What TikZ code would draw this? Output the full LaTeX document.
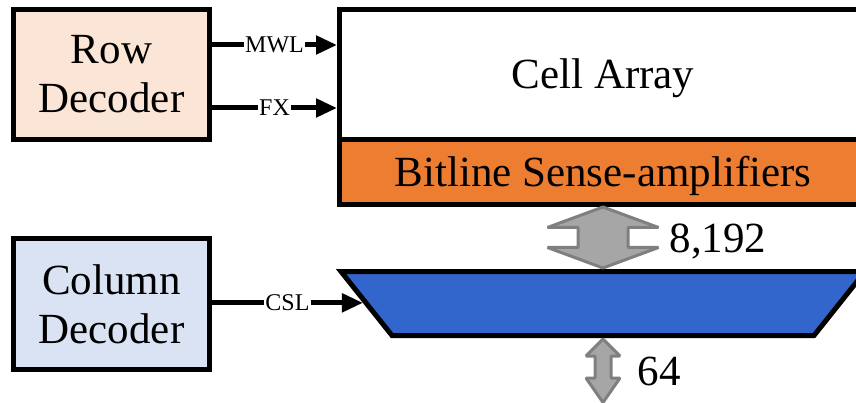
\documentclass[tikz,border=0pt]{standalone}
\usepackage{fontspec}
\setmainfont{Liberation Serif}
\usetikzlibrary{arrows.meta}
\definecolor{peach}{HTML}{FBE5D6}
\definecolor{lblue}{HTML}{DAE3F3}
\definecolor{orng}{HTML}{ED7D31}
\definecolor{mblue}{HTML}{3366CC}
\definecolor{agray}{HTML}{A6A6A6}
\definecolor{dgray}{HTML}{7F7F7F}
\begin{document}
\begin{tikzpicture}[x=1pt,y=-1pt,
  blk/.style={draw=black, line width=5pt, inner sep=0pt, align=center,
    font=\fontsize{43}{49}\selectfont},
  sig/.style={line width=5pt, -{Triangle[length=21pt,width=18pt]}},
  siglbl/.style={fill=white, inner sep=1pt, font=\fontsize{24}{28}\selectfont},
  big/.style={font=\fontsize{43}{49}\selectfont, inner sep=0pt},
  garrow/.style={fill=agray, draw=dgray, line width=3pt, line join=bevel}]
\useasboundingbox (0,0) rectangle (856,403);
\clip (0,0) rectangle (856,403);

% decoders
\node[blk, fill=peach, minimum width=196pt, minimum height=130pt] (row) at (111.5,74.5) {Row\\Decoder};
\node[blk, fill=lblue, minimum width=196pt, minimum height=131pt] (col) at (111.5,304) {Column\\Decoder};

% cell array and sense amplifiers
\node[blk, fill=white, minimum width=527pt, minimum height=130.5pt,
  text height=28.5pt, text depth=0pt] (cell) at (603,74.75) {Cell Array};
\node[blk, fill=orng, minimum width=527pt, minimum height=64.5pt,
  text height=29.5pt, text depth=0pt] (bsa) at (603,172.25) {Bitline Sense-amplifiers};

% column mux (trapezoid)
\coordinate (tl) at (341,271.5);
\coordinate (tr) at (865,271.5);
\coordinate (br) at (814,335.5);
\coordinate (bl) at (392,335.5);
\draw[fill=mblue, line width=5pt, line join=miter] (tl) -- (tr) -- (br) -- (bl) -- cycle;
\path (tl) -- (bl) coordinate[pos=0.49] (mlin);

% signals
\coordinate (ymwl) at (0,45);
\coordinate (yfx) at (0,108);
\draw[sig] (row.east |- ymwl) -- (cell.west |- ymwl) node[midway, siglbl] {MWL};
\draw[sig] (row.east |- yfx) -- (cell.west |- yfx) node[midway, siglbl] {FX};
\draw[sig] (col.east |- mlin) -- ([xshift=-3pt]mlin) node[midway, siglbl] {CSL};

% wide data arrow
\coordinate (a8) at (603,237.5);
\draw[garrow] (a8) ++(0,-30.5) -- ++(55.5,20.5) -- ++(-30.5,0) -- ++(0,20) -- ++(30.5,0)
  -- ++(-55.5,20.5) -- ++(-55.5,-20.5) -- ++(30.5,0) -- ++(0,-20) -- ++(-30.5,0) -- cycle;
\node[big, anchor=base] (n8192) at (718,253) {8,192};

% narrow data arrow
\coordinate (a64) at (603,370.5);
\draw[garrow] (a64) ++(0,-31.5) -- ++(17,17) -- ++(-9,0) -- ++(0,22) -- ++(9,0)
  -- ++(-17,24.5) -- ++(-17,-24.5) -- ++(9,0) -- ++(0,-22) -- ++(-9,0) -- cycle;
\node[big, anchor=base] (n64) at (659,385) {64};
\end{tikzpicture}
\end{document}
